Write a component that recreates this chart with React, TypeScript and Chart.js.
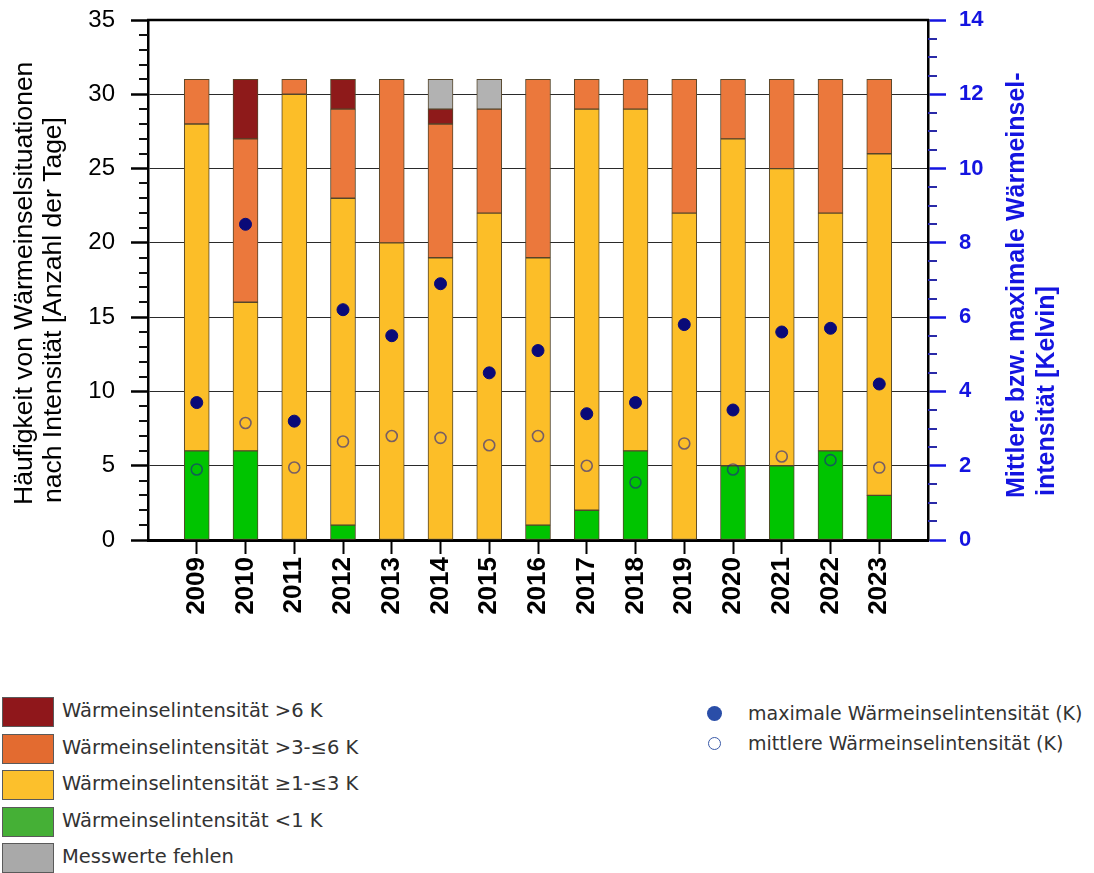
import { useEffect, useRef } from 'react';
import { Chart, registerables } from 'chart.js';

Chart.register(...registerables);

// ---- data ----
const years = ['2009', '2010', '2011', '2012', '2013', '2014', '2015', '2016', '2017', '2018', '2019', '2020', '2021', '2022', '2023'];
const daysBelow1K = [6, 6, 0, 1, 0, 0, 0, 1, 2, 6, 0, 5, 5, 6, 3];
const days1to3K = [22, 10, 30, 22, 20, 19, 22, 18, 27, 23, 22, 22, 20, 16, 23];
const days3to6K = [3, 11, 1, 6, 11, 9, 7, 12, 2, 2, 9, 4, 6, 9, 5];
const daysAbove6K = [0, 4, 0, 2, 0, 1, 0, 0, 0, 0, 0, 0, 0, 0, 0];
const daysMissing = [0, 0, 0, 0, 0, 2, 2, 0, 0, 0, 0, 0, 0, 0, 0];
const maxIntensity = [3.7, 8.5, 3.2, 6.2, 5.5, 6.9, 4.5, 5.1, 3.4, 3.7, 5.8, 3.5, 5.6, 5.7, 4.2];
const meanIntensity = [1.9, 3.15, 1.95, 2.65, 2.8, 2.75, 2.55, 2.8, 2.0, 1.55, 2.6, 1.9, 2.25, 2.15, 1.95];

const leftAxisMax = 35;
const rightAxisMax = 14;
const leftTitle = ['Häufigkeit von Wärmeinselsituationen', 'nach Intensität [Anzahl der Tage]'];
const rightTitle = ['Mittlere bzw. maximale Wärmeinsel-', 'intensität [Kelvin]'];

const barLegend = [
  { label: 'Wärmeinselintensität >6 K', color: '#8f171b' },
  { label: 'Wärmeinselintensität >3-≤6 K', color: '#e36b30' },
  { label: 'Wärmeinselintensität ≥1-≤3 K', color: '#fcc02c' },
  { label: 'Wärmeinselintensität <1 K', color: '#45b036' },
  { label: 'Messwerte fehlen', color: '#a9a9a9' },
];
const pointLegend = ['maximale Wärmeinselintensität (K)', 'mittlere Wärmeinselintensität (K)'];

const W = 1094;
const CH = 650;
const BLUE = '#1414e0';

const toXY = (arr: number[]) => arr.map((v, i) => ({ x: i, y: v === 0 ? null : v }));
const toPts = (arr: number[]) => arr.map((v, i) => ({ x: i, y: v }));

const decorPlugin = {
  id: 'decor',
  afterDraw(chart: any) {
    const { ctx, chartArea: a } = chart;
    const y = chart.scales.y;
    const y2 = chart.scales.y2;
    ctx.save();
    // top frame
    ctx.strokeStyle = '#000';
    ctx.lineWidth = 2.5;
    ctx.beginPath();
    ctx.moveTo(a.left - 1, a.top);
    ctx.lineTo(a.right + 1, a.top);
    ctx.stroke();
    // left minor ticks
    ctx.lineWidth = 2;
    ctx.strokeStyle = '#111';
    ctx.beginPath();
    for (let v = 0; v <= leftAxisMax; v++) {
      if (v % 5 === 0) continue;
      const p = Math.round(y.getPixelForValue(v));
      ctx.moveTo(a.left - 9, p);
      ctx.lineTo(a.left, p);
    }
    ctx.stroke();
    // right minor ticks
    ctx.strokeStyle = '#2a2aa8';
    ctx.beginPath();
    for (let k = 1; k < rightAxisMax * 2; k++) {
      const v = k / 2;
      if (v % 2 === 0) continue;
      const p = Math.round(y2.getPixelForValue(v));
      ctx.moveTo(a.right, p);
      ctx.lineTo(a.right + 9, p);
    }
    ctx.stroke();
    // axis titles
    const drawVertical = (text: string, x: number, yStart: number, font: string, color: string) => {
      ctx.save();
      ctx.translate(x, yStart);
      ctx.rotate(-Math.PI / 2);
      ctx.font = font;
      ctx.fillStyle = color;
      ctx.textAlign = 'left';
      ctx.textBaseline = 'middle';
      ctx.fillText(text, 0, 0);
      ctx.restore();
    };
    const lf = '26.5px "Liberation Sans", Arial, sans-serif';
    drawVertical(leftTitle[0], 25, 505, lf, '#000');
    drawVertical(leftTitle[1], 54, 503, lf, '#000');
    const rf = 'bold 25px "Liberation Sans", Arial, sans-serif';
    drawVertical(rightTitle[0], 1017, 498, rf, BLUE);
    drawVertical(rightTitle[1], 1047, 496, rf, BLUE);
    ctx.restore();
  },
};

function ChartCanvas() {
  const ref = useRef<HTMLCanvasElement | null>(null);
  useEffect(() => {
    document.body.style.margin = '0';
    if (!ref.current) return;
    const barBase = {
      type: 'bar' as const,
      borderColor: '#54452a',
      borderWidth: 1,
      borderSkipped: false,
      barThickness: 25,
      yAxisID: 'y',
      order: 1,
    };
    const chart = new Chart(ref.current, {
      type: 'bar',
      data: {
        datasets: [
          { ...barBase, label: 'Wärmeinselintensität <1 K', data: toXY(daysBelow1K), backgroundColor: '#00c400' },
          { ...barBase, label: 'Wärmeinselintensität ≥1-≤3 K', data: toXY(days1to3K), backgroundColor: '#fcbe28' },
          { ...barBase, label: 'Wärmeinselintensität >3-≤6 K', data: toXY(days3to6K), backgroundColor: '#eb783c' },
          { ...barBase, label: 'Wärmeinselintensität >6 K', data: toXY(daysAbove6K), backgroundColor: '#8e1a1a' },
          { ...barBase, label: 'Messwerte fehlen', data: toXY(daysMissing), backgroundColor: '#b2b2b2' },
          {
            type: 'line' as const,
            label: 'maximale Wärmeinselintensität (K)',
            data: toPts(maxIntensity),
            yAxisID: 'y2',
            showLine: false,
            pointRadius: 6,
            pointBackgroundColor: '#0a0a78',
            pointBorderColor: '#0a0a78',
            pointBorderWidth: 1,
            order: -1,
          },
          {
            type: 'line' as const,
            label: 'mittlere Wärmeinselintensität (K)',
            data: toPts(meanIntensity),
            yAxisID: 'y2',
            showLine: false,
            pointRadius: 5.5,
            pointBackgroundColor: 'rgba(0,0,0,0)',
            pointBorderColor: 'rgba(30,30,140,0.6)',
            pointBorderWidth: 1.6,
            order: -1,
          },
        ] as any,
      },
      options: {
        responsive: false,
        animation: false,
        events: [],
        layout: { padding: { top: 20, left: 0, right: 0, bottom: 0 }, autoPadding: false },
        plugins: { legend: { display: false }, tooltip: { enabled: false }, title: { display: false } },
        scales: {
          x: {
            type: 'linear',
            min: -1,
            max: years.length,
            offset: false,
            stacked: true,
            afterBuildTicks: (s: any) => {
              s.ticks = years.map((_, i) => ({ value: i }));
            },
            afterFit: (s: any) => {
              s.height = CH - 540;
              s.paddingLeft = 0;
              s.paddingRight = 0;
            },
            grid: { offset: false, drawOnChartArea: false, tickLength: 14, tickColor: '#000', tickWidth: 2 },
            border: { display: true, color: '#000', width: 3 },
            ticks: {
              autoSkip: false,
              maxRotation: 90,
              minRotation: 90,
              padding: 3,
              color: '#000',
              font: { family: '"Liberation Sans", Arial, sans-serif', size: 26, weight: 'bold' },
              callback: (v: any) => years[v] ?? '',
            },
          },
          y: {
            type: 'linear',
            position: 'left',
            min: 0,
            max: leftAxisMax,
            stacked: true,
            z: 1,
            afterFit: (s: any) => {
              s.width = 148;
              s.paddingTop = 0;
              s.paddingBottom = 0;
            },
            grid: {
              color: (c: any) => (c.tick && (c.tick.value === 0 || c.tick.value === leftAxisMax) ? 'rgba(0,0,0,0)' : '#2a2a2a'),
              lineWidth: 1,
              tickLength: 17,
              tickColor: '#000',
              tickWidth: 2.5,
            },
            border: { display: true, color: '#000', width: 2.5 },
            ticks: {
              stepSize: 5,
              padding: 16,
              color: '#000',
              font: { family: '"Liberation Sans", Arial, sans-serif', size: 24 },
            },
          },
          y2: {
            type: 'linear',
            position: 'right',
            min: 0,
            max: rightAxisMax,
            afterFit: (s: any) => {
              s.width = W - 928;
              s.paddingTop = 0;
              s.paddingBottom = 0;
            },
            grid: { drawOnChartArea: false, tickLength: 18, tickColor: BLUE, tickWidth: 2.5 },
            border: { display: true, color: '#000', width: 2.5 },
            ticks: {
              stepSize: 2,
              padding: 13,
              color: BLUE,
              font: { family: '"Liberation Sans", Arial, sans-serif', size: 22, weight: 'bold' },
            },
          },
        },
      } as any,
      plugins: [decorPlugin],
    });
    return () => chart.destroy();
  }, []);
  return <canvas ref={ref} width={W} height={CH} style={{ position: 'absolute', left: 0, top: 0 }} />;
}

export default function App() {
  const barRowCenters = [711, 748, 784, 821, 857];
  const pointRowCenters = [713, 743];
  const textStyle: any = {
    position: 'absolute',
    fontFamily: '"DejaVu Sans", sans-serif',
    fontSize: 19.5,
    color: '#333',
    lineHeight: '24px',
    whiteSpace: 'nowrap',
  };
  return (
    <div style={{ position: 'relative', width: W, height: 873, background: '#fff', overflow: 'hidden' }}>
      <ChartCanvas />
      {barLegend.map((item, i) => (
        <div key={item.label}>
          <div
            style={{
              position: 'absolute',
              left: 2,
              top: barRowCenters[i] - 14.5,
              width: 50,
              height: 28,
              background: item.color,
              border: '1px solid #5a5a5a',
            }}
          />
          <div style={{ ...textStyle, left: 62, top: barRowCenters[i] - 12 }}>{item.label}</div>
        </div>
      ))}
      <div
        style={{
          position: 'absolute',
          left: 714 - 7.5,
          top: pointRowCenters[0] - 7.5,
          width: 15,
          height: 15,
          borderRadius: '50%',
          background: '#2a4ea8',
        }}
      />
      <div style={{ ...textStyle, fontSize: 19, left: 748, top: pointRowCenters[0] - 12 }}>{pointLegend[0]}</div>
      <div
        style={{
          position: 'absolute',
          left: 714 - 6.5,
          top: pointRowCenters[1] - 6.5,
          width: 11,
          height: 11,
          borderRadius: '50%',
          border: '1px solid #3a5aa8',
        }}
      />
      <div style={{ ...textStyle, fontSize: 19, left: 748, top: pointRowCenters[1] - 12 }}>{pointLegend[1]}</div>
    </div>
  );
}
